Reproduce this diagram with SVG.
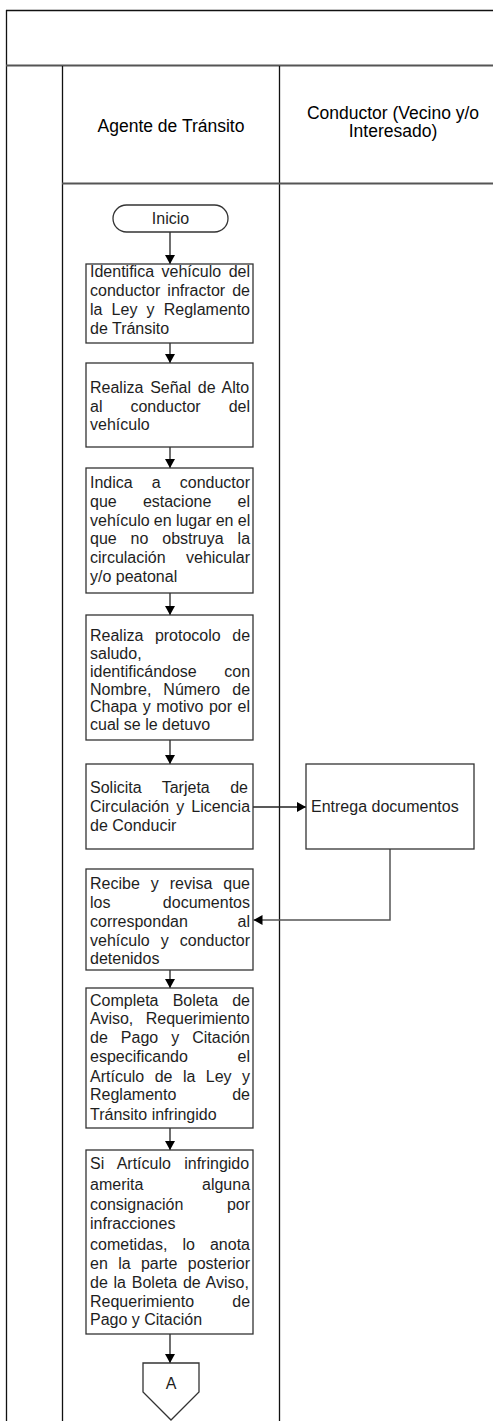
<svg xmlns="http://www.w3.org/2000/svg" width="493" height="1421" viewBox="0 0 493 1421">
<style>
.t{font-family:"Liberation Sans",Arial,sans-serif;font-size:16px;fill:#1e1e1e}
.h{font-family:"Liberation Sans",Arial,sans-serif;font-size:17.5px;fill:#000;text-anchor:middle}
.box{fill:#fff;stroke:#333;stroke-width:1.3}
.lane{stroke:#111;stroke-width:1.3;fill:none}
.lane2{stroke:#555;stroke-width:2;fill:none}
.c{stroke:#222;stroke-width:1.3;fill:none;marker-end:url(#arr)}
.c2{stroke:#555;stroke-width:1.5;fill:none;marker-end:url(#arr)}
</style>
<defs>
<marker id="arr" viewBox="0 0 9 10" refX="9" refY="5" markerWidth="9" markerHeight="10" orient="auto" markerUnits="userSpaceOnUse">
<path d="M0,0 L9,5 L0,10 z" fill="#000"/>
</marker>
</defs>
<rect width="493" height="1421" fill="#fff"/>
<g id="lanes">
<line class="lane" x1="6" y1="10.5" x2="493" y2="10.5"/>
<line class="lane" x1="6.5" y1="10" x2="6.5" y2="1421"/>
<line class="lane2" x1="6" y1="65.5" x2="493" y2="65.5"/>
<line class="lane" x1="62.5" y1="66" x2="62.5" y2="1421"/>
<line class="lane" x1="279.5" y1="66" x2="279.5" y2="1421"/>
<line class="lane2" x1="62" y1="183.5" x2="493" y2="183.5"/>
<text class="h" x="171" y="132">Agente de Tránsito</text>
<text class="h" x="393" y="119">Conductor (Vecino y/o</text>
<text class="h" x="393" y="137">Interesado)</text>
</g>
<g id="connectors">
<line class="c" x1="170" y1="232" x2="170" y2="264"/>
<line class="c" x1="170" y1="343" x2="170" y2="363"/>
<line class="c" x1="170" y1="447" x2="170" y2="468"/>
<line class="c" x1="170" y1="593" x2="170" y2="615"/>
<line class="c" x1="170" y1="740" x2="170" y2="764"/>
<line class="c" x1="253" y1="807" x2="306" y2="807"/>
<polyline class="c2" points="390,849 390,920 253.5,920"/>
<line class="c" x1="170" y1="970" x2="170" y2="988"/>
<line class="c" x1="170" y1="1128" x2="170" y2="1150"/>
<line class="c" x1="170" y1="1334" x2="170" y2="1363"/>
</g>
<g id="inicio">
<rect class="box" x="113" y="205" width="115" height="27" rx="13.5"/>
<text class="t" x="170.5" y="224" text-anchor="middle">Inicio</text>
</g>
<g id="n1">
<rect class="box" x="86" y="264" width="167" height="79"/>
<text class="t" x="90" y="277" word-spacing="3.07">Identifica vehículo del</text>
<text class="t" x="90" y="296" word-spacing="2.63">conductor infractor de</text>
<text class="t" x="90" y="315" word-spacing="4.72">la Ley y Reglamento</text>
<text class="t" x="90" y="334">de Tránsito</text>
</g>
<g id="n2">
<rect class="box" x="86" y="363" width="167" height="84"/>
<text class="t" x="90" y="393" word-spacing="2.35">Realiza Señal de Alto</text>
<text class="t" x="90" y="412" word-spacing="23.53">al conductor del</text>
<text class="t" x="90" y="430">vehículo</text>
</g>
<g id="n3">
<rect class="box" x="86" y="468" width="167" height="125"/>
<text class="t" x="90" y="488" word-spacing="14.63">Indica a conductor</text>
<text class="t" x="90" y="507" word-spacing="21.74">que estacione el</text>
<text class="t" x="90" y="526" word-spacing="-0.2">vehículo en lugar en el</text>
<text class="t" x="90" y="544" word-spacing="9.46">que no obstruya la</text>
<text class="t" x="90" y="563" word-spacing="15.97">circulación vehicular</text>
<text class="t" x="90" y="582">y/o peatonal</text>
</g>
<g id="n4">
<rect class="box" x="86" y="615" width="167" height="125"/>
<text class="t" x="90" y="641" word-spacing="7.08">Realiza protocolo de</text>
<text class="t" x="90" y="659">saludo,</text>
<text class="t" x="90" y="677" word-spacing="23.04">identificándose con</text>
<text class="t" x="90" y="694.5" word-spacing="7.54">Nombre, Número de</text>
<text class="t" x="90" y="712" word-spacing="1.1">Chapa y motivo por el</text>
<text class="t" x="90" y="730">cual se le detuvo</text>
</g>
<g id="n5">
<rect class="box" x="86" y="764" width="167" height="85"/>
<text class="t" x="90" y="793" word-spacing="15.98">Solicita Tarjeta de</text>
<text class="t" x="90" y="812" word-spacing="2.65">Circulación y Licencia</text>
<text class="t" x="90" y="831">de Conducir</text>
</g>
<g id="entrega">
<rect class="box" x="306" y="764" width="168" height="85"/>
<text class="t" x="311" y="812">Entrega documentos</text>
</g>
<g id="n6">
<rect class="box" x="86" y="869" width="167" height="101"/>
<text class="t" x="90" y="889" word-spacing="6.5">Recibe y revisa que</text>
<text class="t" x="90" y="908" word-spacing="47.95">los documentos</text>
<text class="t" x="90" y="927" word-spacing="45.28">correspondan al</text>
<text class="t" x="90" y="946" word-spacing="6.63">vehículo y conductor</text>
<text class="t" x="90" y="964">detenidos</text>
</g>
<g id="n7">
<rect class="box" x="86" y="988" width="167" height="140"/>
<text class="t" x="90" y="1006" word-spacing="9.74">Completa Boleta de</text>
<text class="t" x="90" y="1024" word-spacing="7.95">Aviso, Requerimiento</text>
<text class="t" x="90" y="1043" word-spacing="8.57">de Pago y Citación</text>
<text class="t" x="90" y="1062" word-spacing="45.28">especificando el</text>
<text class="t" x="90" y="1082" word-spacing="5.98">Artículo de la Ley y</text>
<text class="t" x="90" y="1100" word-spacing="51.5">Reglamento de</text>
<text class="t" x="90" y="1120">Tránsito infringido</text>
</g>
<g id="n8">
<rect class="box" x="86" y="1150" width="167" height="184"/>
<text class="t" x="90" y="1169" word-spacing="8.86">Si Artículo infringido</text>
<text class="t" x="90" y="1190" word-spacing="54.18">amerita alguna</text>
<text class="t" x="90" y="1210" word-spacing="39.06">consignación por</text>
<text class="t" x="90" y="1229">infracciones</text>
<text class="t" x="90" y="1250" word-spacing="10.63">cometidas, lo anota</text>
<text class="t" x="90" y="1269" word-spacing="5.9">en la parte posterior</text>
<text class="t" x="90" y="1288" word-spacing="1.31">de la Boleta de Aviso,</text>
<text class="t" x="90" y="1307" word-spacing="33.73">Requerimiento de</text>
<text class="t" x="90" y="1325">Pago y Citación</text>
</g>
<g id="conectorA">
<polygon class="box" points="143,1363 199,1363 199,1392 171,1420 143,1392"/>
<text class="t" x="171" y="1389" text-anchor="middle" font-size="15">A</text>
</g>
</svg>
